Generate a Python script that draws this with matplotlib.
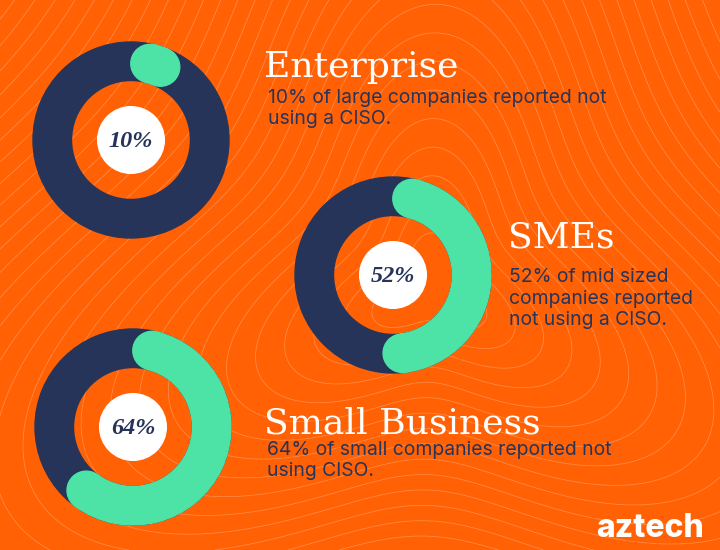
import numpy as np
import matplotlib
matplotlib.use("Agg")
import matplotlib.pyplot as plt
from matplotlib.patches import Wedge, Circle

# chart data
segments = ["Enterprise", "SMEs", "Small Business"]
no_ciso_pct = [10, 52, 64]
pct_labels = ["10%", "52%", "64%"]
descriptions = [
    ["10% of large companies reported not", "using a CISO."],
    ["52% of mid sized", "companies reported", "not using a CISO."],
    ["64% of small companies reported not", "using CISO."],
]

ORANGE = "#ff6104"
NAVY = "#26345a"
GREEN = "#4de3a7"
W, H = 720, 550

# layout in image pixels (x, y from top)
donut_pos = [(131, 140), (393, 275), (133, 427)]
donut_r = 98
title_pos = [(264, 77), (508, 248), (264, 433)]
text_pos = [(268, 103), (509, 282), (267, 455)]
line_gap = 21.5

fig = plt.figure(figsize=(W / 100, H / 100), dpi=100)
fig.patch.set_facecolor(ORANGE)

# background with thin contour lines
bg = fig.add_axes([0, 0, 1, 1])
bg.set_xlim(0, W)
bg.set_ylim(H, 0)
bg.axis("off")
gx, gy = np.meshgrid(np.linspace(0, W, 400), np.linspace(0, H, 320))
dx, dy = gx - 430, gy - 290
rr = np.hypot(dx / 1.15, dy)
phi = np.arctan2(dy, dx)
field = rr * (1 + 0.3 * np.cos(3 * (phi + 0.5)))
bg.contour(gx, gy, field, levels=np.arange(40, 900, 20),
           colors="white", linewidths=0.6, alpha=0.25)


def to_fig(x, y):
    return x / W, 1 - y / H


r_in = 59.5 / 98
band = 1 - r_in
mid = 1 - band / 2
cap = band / 2
cap_deg = np.degrees(cap / mid)

for i, pct in enumerate(no_ciso_pct):
    cx, cy = donut_pos[i]
    pad = 1.05
    ax = fig.add_axes([(cx - donut_r * pad) / W, 1 - (cy + donut_r * pad) / H,
                       2 * donut_r * pad / W, 2 * donut_r * pad / H])
    ax.set_xlim(-pad, pad)
    ax.set_ylim(-pad, pad)
    ax.set_aspect("equal")
    ax.axis("off")
    ax.add_patch(Wedge((0, 0), 1, 0, 360, width=band, color=NAVY))
    a = cap_deg
    b = max(pct * 3.6 - cap_deg, a)
    ax.add_patch(Wedge((0, 0), 1, 90 - b, 90 - a, width=band, color=GREEN))
    for ang in (a, b):
        t = np.radians(90 - ang)
        ax.add_patch(Circle((mid * np.cos(t), mid * np.sin(t)), cap, color=GREEN))
    ax.add_patch(Circle((0, 0), 0.34, color="white"))
    ax.text(0, -0.02, pct_labels[i], ha="center", va="center", color=NAVY,
            fontsize=17.5, fontfamily="Liberation Serif", fontweight="bold",
            fontstyle="italic")

for i, name in enumerate(segments):
    tx, ty = to_fig(*title_pos[i])
    fig.text(tx, ty, name, color="white", fontsize=26,
             fontfamily="DejaVu Serif", va="baseline", ha="left")
    x0, y0 = text_pos[i]
    for j, line in enumerate(descriptions[i]):
        lx, ly = to_fig(x0, y0 + j * line_gap)
        fig.text(lx, ly, line, color=NAVY, fontsize=13.9, fontfamily="Inter",
                 va="baseline", ha="left")

lx, ly = to_fig(596, 537)
fig.text(lx, ly, "aztech", color="white", fontsize=23, fontfamily="Inter",
         fontweight="heavy", va="baseline", ha="left")

fig.savefig("out.png", dpi=100, facecolor=ORANGE)
